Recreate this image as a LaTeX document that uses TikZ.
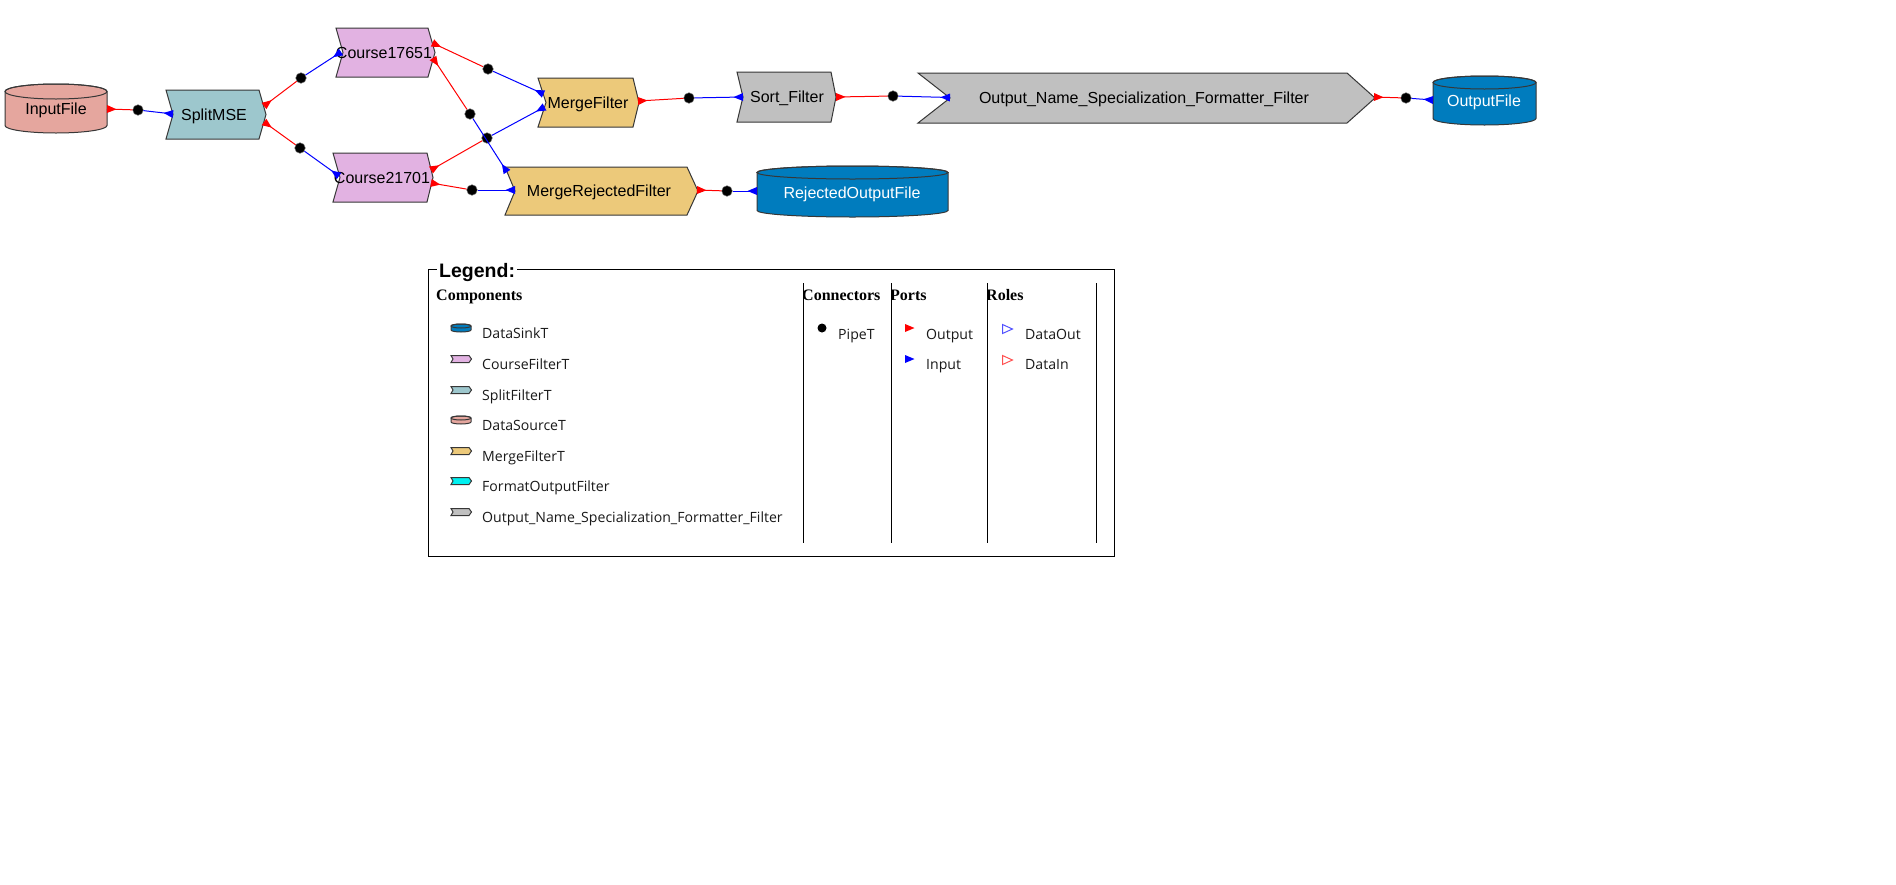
\documentclass[tikz,border=0pt]{standalone}
\usepackage{fontspec}
\setmainfont{Liberation Sans}
\newfontfamily\legfont{Open Sans}
\newfontfamily\hdrfont{Liberation Serif}
\usetikzlibrary{calc}

\definecolor{srcfill}{RGB}{229,166,158}
\definecolor{splitfill}{RGB}{157,199,205}
\definecolor{coursefill}{RGB}{226,178,226}
\definecolor{mergefill}{RGB}{236,201,122}
\definecolor{greyfill}{RGB}{192,192,192}
\definecolor{sinkfill}{RGB}{0,124,190}
\definecolor{cyanfill}{RGB}{0,240,240}
\definecolor{outlinec}{RGB}{55,55,55}
\definecolor{portred}{RGB}{255,0,0}
\definecolor{portblue}{RGB}{0,0,255}
\definecolor{rolered}{RGB}{255,80,80}
\definecolor{roleblue}{RGB}{80,80,255}

\tikzset{
  compshape/.style={draw=outlinec, line width=1pt, line join=miter},
  lbl/.style={inner sep=0pt, text height=11.5pt, text depth=0pt, font=\fontsize{16}{19}\selectfont},
  wlbl/.style={lbl, text=white},
  pipedot/.style={circle, fill=black, draw=black!60, line width=0.5pt, inner sep=0pt, minimum size=10.5pt},
  outwire/.style={portred, line width=1pt},
  inwire/.style={portblue, line width=1pt},
  legtext/.style={anchor=base west, inner sep=0pt, font=\legfont\fontsize{14.1}{17}\selectfont, text=black!90},
  hdrtext/.style={anchor=base west, inner sep=0pt, font=\hdrfont\bfseries\fontsize{16}{19}\selectfont},
  colline/.style={draw=black, line width=1pt},
}

% drum: x1,y1,x2,y2,ry,fill
\newcommand{\drum}[6]{%
  \pgfmathsetmacro\drumcx{(#1+#3)/2}%
  \pgfmathsetmacro\drumrx{(#3-#1)/2}%
  \draw[compshape, fill=#6] (#1,#2+#5) -- (#1,#4-#5)
     arc[start angle=180, end angle=0, x radius=\drumrx, y radius=#5]
     -- (#3,#2+#5)
     arc[start angle=0, end angle=-180, x radius=\drumrx, y radius=#5] -- cycle;
  \draw[compshape] (\drumcx,#2+#5) ellipse [x radius=\drumrx, y radius=#5];
}
% small legend signal icon: cy, fill
\newcommand{\legsig}[2]{%
  \draw[draw=outlinec, line width=1pt, fill=#2] (451,#1-3.5) -- (469,#1-3.5) -- (471.5,#1) -- (469,#1+3.5) -- (451,#1+3.5) -- (453,#1) -- cycle;
}
% port marker: colour, port coordinate, dot node (triangle based at port, pointing to dot)
\newcommand{\portmark}[3]{%
  \fill[#1] ($(#2)!4pt!90:(#3)$) -- ($(#2)!9.5pt!(#3)$) -- ($(#2)!4pt!-90:(#3)$) -- cycle;
}
% pipe: source port, dot, target port
\newcommand{\pipeconn}[3]{%
  \draw[outwire] (#1) -- (#2);
  \draw[inwire] (#2) -- (#3);
  \portmark{portred}{#1}{#2}
  \portmark{portblue}{#3}{#2}
}

\begin{document}
\begin{tikzpicture}[x=1pt,y=-1pt]
\fill[white] (0,0) rectangle (1896,884);
\useasboundingbox (0,0) rectangle (1896,884);

% ---------------- components ----------------
\drum{5}{84}{107}{133}{7.5}{srcfill}
\node[lbl, minimum width=102pt, minimum height=49pt] (inputfile) at (56,108.5) {InputFile};

\draw[compshape, fill=splitfill] (166,90) -- (259,90) -- (266,114.5) -- (259,139) -- (166,139) -- (173,114.5) -- cycle;
\node[lbl, minimum width=100pt, minimum height=49pt] (splitmse) at (214,114.5) {SplitMSE};

\draw[compshape, fill=coursefill] (336,28) -- (428,28) -- (435,52.5) -- (428,77) -- (336,77) -- (343,52.5) -- cycle;
\node[lbl, minimum width=99pt, minimum height=49pt] (c17651) at (384,52.5) {Course17651};

\draw[compshape, fill=coursefill] (333,153) -- (427,153) -- (433,177.5) -- (427,202) -- (333,202) -- (340,177.5) -- cycle;
\node[lbl, minimum width=100pt, minimum height=49pt] (c21701) at (382,177.5) {Course21701};

\draw[compshape, fill=mergefill] (538,78) -- (633,78) -- (639,102.5) -- (633,127) -- (538,127) -- (546,102.5) -- cycle;
\node[lbl, minimum width=101pt, minimum height=49pt] (mergef) at (588,102.5) {MergeFilter};

\draw[compshape, fill=greyfill] (737,72) -- (831,72) -- (836,97) -- (831,122) -- (737,122) -- (743,97) -- cycle;
\node[lbl, minimum width=99pt, minimum height=50pt] (sortf) at (787,97) {Sort\_Filter};

\draw[compshape, fill=greyfill] (918,73) -- (1347,73) -- (1375,98) -- (1347,123) -- (918,123) -- (950,98) -- cycle;
\node[lbl, minimum width=457pt, minimum height=50pt] (onsf) at (1144,98) {Output\_Name\_Specialization\_Formatter\_Filter};

\drum{1433}{76}{1536}{125}{6.5}{sinkfill}
\node[wlbl, minimum width=103pt, minimum height=49pt] (outfile) at (1484,101) {OutputFile};

\draw[compshape, fill=mergefill] (505,167) -- (687,167) -- (698,191) -- (687,215) -- (505,215) -- (515,191) -- cycle;
\node[lbl, minimum width=193pt, minimum height=48pt] (mrf) at (599,191) {MergeRejectedFilter};

\drum{757}{166}{948}{217}{6.5}{sinkfill}
\node[wlbl, minimum width=191pt, minimum height=51pt] (rof) at (852,192.5) {RejectedOutputFile};

% ---------------- ports ----------------
\coordinate (p-in-out) at (107,109);
\coordinate (p-sp-in) at (173,114);
\coordinate (p-sp-o1) at (264,106);
\coordinate (p-sp-o2) at (264,122);
\coordinate (p-c1-in) at (341,52);
\coordinate (p-c1-o1) at (432.5,43);
\coordinate (p-c1-o2) at (433,58);
\coordinate (p-c2-in) at (339,176);
\coordinate (p-c2-o1) at (431,170);
\coordinate (p-c2-o2) at (431,183);
\coordinate (p-mf-i1) at (543.5,94);
\coordinate (p-mf-i2) at (544.5,107);
\coordinate (p-mf-out) at (638,101);
\coordinate (p-sf-in) at (743,97);
\coordinate (p-sf-out) at (836,97);
\coordinate (p-on-in) at (950,97.5);
\coordinate (p-on-out) at (1374,97);
\coordinate (p-of-in) at (1433,100);
\coordinate (p-mr-i1) at (507,172);
\coordinate (p-mr-i2) at (515,190);
\coordinate (p-mr-out) at (697,190);
\coordinate (p-ro-in) at (757,191);

% ---------------- pipes ----------------
\node[pipedot] (d1) at (138,110) {};
\node[pipedot] (d2) at (301,78) {};
\node[pipedot] (d3) at (300,148) {};
\node[pipedot] (d4) at (488,69) {};
\node[pipedot] (d5) at (470,114) {};
\node[pipedot] (d6) at (487,138) {};
\node[pipedot] (d7) at (472,190) {};
\node[pipedot] (d8) at (689,98) {};
\node[pipedot] (d9) at (893,96) {};
\node[pipedot] (d10) at (1406,98) {};
\node[pipedot] (d11) at (727,191) {};

\pipeconn{p-in-out}{d1}{p-sp-in}
\pipeconn{p-sp-o1}{d2}{p-c1-in}
\pipeconn{p-sp-o2}{d3}{p-c2-in}
\pipeconn{p-c1-o1}{d4}{p-mf-i1}
\pipeconn{p-c1-o2}{d5}{p-mr-i1}
\pipeconn{p-c2-o1}{d6}{p-mf-i2}
\pipeconn{p-c2-o2}{d7}{p-mr-i2}
\pipeconn{p-mf-out}{d8}{p-sf-in}
\pipeconn{p-sf-out}{d9}{p-on-in}
\pipeconn{p-on-out}{d10}{p-of-in}
\pipeconn{p-mr-out}{d11}{p-ro-in}

% ---------------- legend ----------------
\draw[black, line width=1pt] (428,269) rectangle (1114,556);
\node[anchor=base west, fill=white, inner xsep=2pt, inner ysep=1pt, font=\bfseries\fontsize{19.5}{22}\selectfont] (legtitle) at (437,277) {Legend:};

\draw[colline] (803,283) -- (803,543);
\draw[colline] (891,283) -- (891,543);
\draw[colline] (987,283) -- (987,543);
\draw[colline] (1096,283) -- (1096,543);

\node[hdrtext] (hcomp) at (436,300) {Components};
\begin{scope}
  \clip (804,280) rectangle (890,310);
  \node[hdrtext] (hconn) at (802,300) {Connectors};
\end{scope}
\begin{scope}
  \clip (892,280) rectangle (986,310);
  \node[hdrtext] (hports) at (890,300) {Ports};
\end{scope}
\begin{scope}
  \clip (988,280) rectangle (1095,310);
  \node[hdrtext] (hroles) at (986,300) {Roles};
\end{scope}

% component icons
\drum{451}{324}{471}{332}{2}{sinkfill}
\legsig{359}{coursefill}
\legsig{390}{splitfill}
\drum{451}{416}{471}{424}{2}{srcfill}
\legsig{451}{mergefill}
\legsig{481}{cyanfill}
\legsig{512}{greyfill}

\node[legtext] (l1) at (482,338) {DataSinkT};
\node[legtext] (l2) at (482,369) {CourseFilterT};
\node[legtext] (l3) at (482,400) {SplitFilterT};
\node[legtext] (l4) at (482,430) {DataSourceT};
\node[legtext] (l5) at (482,461) {MergeFilterT};
\node[legtext] (l6) at (482,491) {FormatOutputFilter};
\node[legtext] (l7) at (482,522) {Output\_Name\_Specialization\_Formatter\_Filter};

% connectors
\fill[black] (822,328) circle[radius=4.5];
\node[legtext] (lpipe) at (838,339) {PipeT};

% ports
\fill[portred] (905,324) -- (914.5,328) -- (905,332) -- cycle;
\node[legtext] (lout) at (926,339) {Output};
\fill[portblue] (905,355) -- (914.5,359) -- (905,363) -- cycle;
\node[legtext] (lin) at (926,369) {Input};

% roles
\draw[roleblue, line width=1pt] (1002.5,324.5) -- (1012.5,329) -- (1002.5,333.5) -- cycle;
\node[legtext] (ldo) at (1025,339) {DataOut};
\draw[rolered, line width=1pt] (1002.5,355.5) -- (1012.5,360) -- (1002.5,364.5) -- cycle;
\node[legtext] (ldi) at (1025,369) {DataIn};
\end{tikzpicture}
\end{document}
